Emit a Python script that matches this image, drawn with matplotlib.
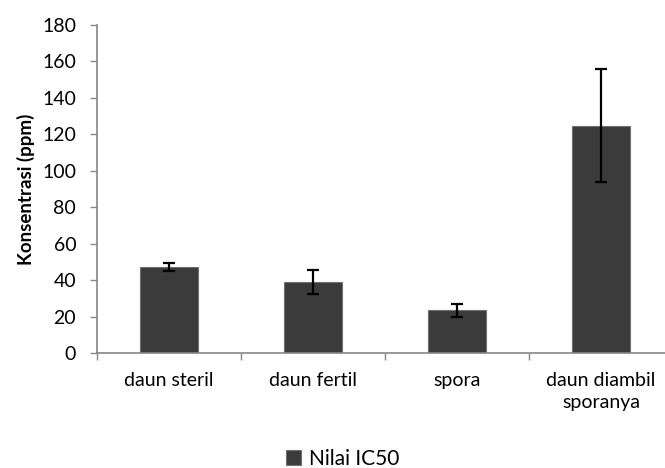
import matplotlib
matplotlib.use("Agg")
import matplotlib.pyplot as plt
import numpy as np

categories = ["daun steril", "daun fertil", "spora", "daun diambil\nsporanya"]
values = [47, 38.8, 23.4, 124.8]
errors = [2.2, 6.5, 3.4, 31]
series_name = "Nilai IC50"
yticks = [0, 20, 40, 60, 80, 100, 120, 140, 160, 180]

plt.rcParams['font.family'] = ['Lato', 'DejaVu Sans']

W, H = 665, 468
fig = plt.figure(figsize=(W/100, H/100), dpi=100)
left, right, top, bottom = 97, 673, 25, 353
ax = fig.add_axes([left/W, 1-bottom/H, (right-left)/W, (bottom-top)/H])

x = np.arange(len(categories))
bars = ax.bar(x, values, width=0.4, color="#3b3b3b", edgecolor="#707070", linewidth=0.8,
              label=series_name, zorder=2)
ax.errorbar(x, values, yerr=errors, fmt='none', ecolor='black', elinewidth=1.6,
            capsize=4.5, capthick=1.6, zorder=3)

ax.set_xlim(-0.5, len(categories)-0.5)
ax.set_ylim(0, 180)
ax.set_yticks(yticks)
ax.set_yticklabels([str(t) for t in yticks], fontsize=14)
ax.set_xticks(x)
ax.set_xticklabels(categories, fontsize=14, linespacing=1.3)
ax.tick_params(axis='x', length=0, pad=14)
ax.set_xticks(np.arange(-0.5, len(categories)), minor=True)
ax.tick_params(axis='x', which='minor', length=5, color='#868686', width=1)
ax.tick_params(axis='y', length=5, color='#868686', width=1, pad=10)

for s in ['top', 'right']:
    ax.spines[s].set_visible(False)
for s in ['left', 'bottom']:
    ax.spines[s].set_color('#868686')
    ax.spines[s].set_linewidth(1.2)

ax.set_ylabel("Konsentrasi (ppm)", fontsize=13.5, fontweight='bold', labelpad=5)

fig.legend(handles=[bars], labels=[series_name], loc='center', bbox_to_anchor=(343/W, 1-459/H),
           frameon=False, fontsize=15, handlelength=0.7, handleheight=0.7, handletextpad=0.4)

fig.savefig("out.png", dpi=100)
